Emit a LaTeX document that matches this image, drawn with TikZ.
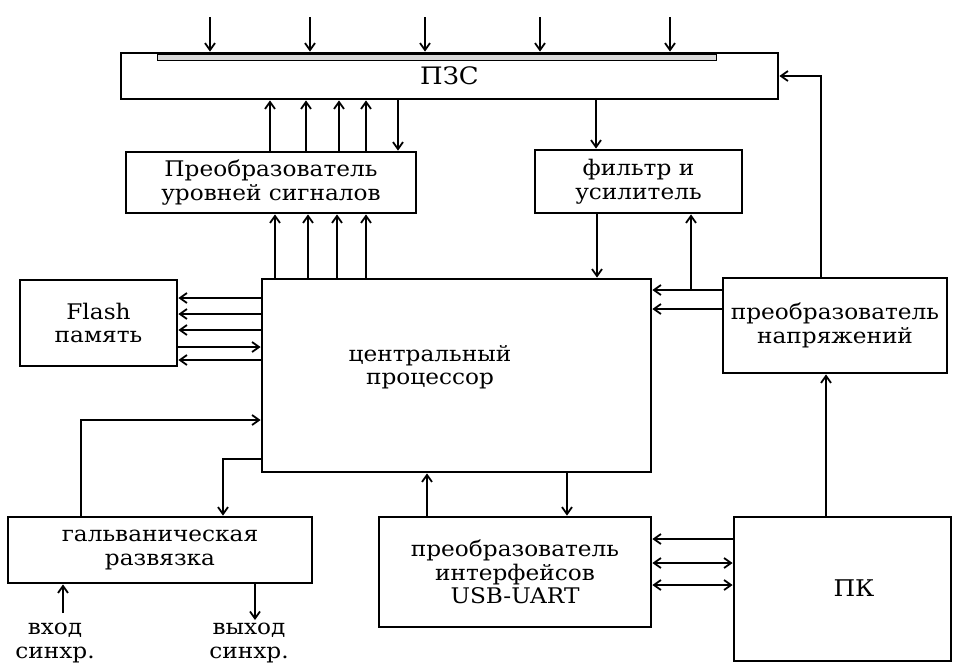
\documentclass[tikz,border=0pt]{standalone}
\usepackage{fontspec}
\setmainfont{DejaVu Serif}[FakeStretch=1.08]
\usetikzlibrary{arrows.meta}
\begin{document}
\begin{tikzpicture}[x=1pt,y=-1pt,
  box/.style={draw,line width=2.8pt,inner sep=0pt,align=center,font=\fontsize{21.5}{23.5}\selectfont},
  txt/.style={inner sep=0pt,align=center,font=\fontsize{21.5}{23.5}\selectfont},
  arr/.style={line width=1.8pt,-{Straight Barb[length=7pt,width=10pt,line width=1.8pt]}},
  darr/.style={line width=1.8pt,{Straight Barb[length=7pt,width=10pt,line width=1.8pt]}-{Straight Barb[length=7pt,width=10pt,line width=1.8pt]}}]
\useasboundingbox (0,0) rectangle (954,665);
% boxes
\node[box,minimum width=657pt,minimum height=46pt,font=\fontsize{24}{26}\selectfont] (pzs) at (449.5,76) {ПЗС};
\draw[line width=0.8pt,fill=gray!30] (157,54) rectangle (716,60);
\node[box,minimum width=290pt,minimum height=61pt] (pus) at (271,182.5) {Преобразователь\\уровней сигналов};
\node[box,minimum width=207pt,minimum height=63pt] (flt) at (638.5,181.5) {фильтр и\\усилитель};
\node[box,minimum width=389pt,minimum height=193pt] (cpu) at (456.5,375.5) {};
\node[txt] (cputxt) at (430,367) {центральный\\процессор};
\node[box,minimum width=157pt,minimum height=86pt] (flash) at (98.5,323) {Flash\\память};
\node[box,minimum width=224pt,minimum height=95pt] (volt) at (835,325.5) {преобразователь\\напряжений};
\node[box,minimum width=304pt,minimum height=66pt] (galv) at (160,550) {гальваническая\\развязка};
\node[box,minimum width=272pt,minimum height=110pt] (usb) at (515,572) {преобразователь\\интерфейсов\\USB-UART};
\node[box,minimum width=217pt,minimum height=144pt] (pk) at (842.5,589) {};
\node[txt,font=\fontsize{23}{25}\selectfont] (pktxt) at (854,588) {ПК};
\node[txt,anchor=north] (inlbl) at (55,623) {вход\\синхр.};
\node[txt,anchor=north] (outlbl) at (249,623) {выход\\синхр.};
% input arrows to ПЗС
\foreach \xx/\nm in {210/a,310/b,425/c,540/d,670/e}{
  \coordinate (in\nm) at (\xx,17);
  \draw[arr] (in\nm) -- (in\nm |- pzs.north);
}
% x helper coordinates
\foreach \xx/\nm in {270/u1,306/u2,339/u3,366/u4,398/d1,275/l1,308/l2,337/l3,366/l4,596/f1,597/f2,691/f3,821/v1,826/v2,427/s1,567/s2,81/g1,223/g2,63/g3,255/g4}{
  \coordinate (x\nm) at (\xx,0);
}
\foreach \yy/\nm in {290/a,309/b,298/f1,314/f2,330/f3,347/f4,360/f5,420/g1,459/g2,539/p1,563/p2,585/p3}{
  \coordinate (y\nm) at (0,\yy);
}
% ПУС <-> ПЗС
\foreach \nm in {u1,u2,u3,u4}{\draw[arr] (x\nm |- pus.north) -- (x\nm |- pzs.south);}
\draw[arr] (xd1 |- pzs.south) -- (xd1 |- pus.north);
% CPU -> ПУС
\foreach \nm in {l1,l2,l3,l4}{\draw[arr] (x\nm |- cpu.north) -- (x\nm |- pus.south);}
% ПЗС -> filter -> CPU
\draw[arr] (xf1 |- pzs.south) -- (xf1 |- flt.north);
\draw[arr] (xf2 |- flt.south) -- (xf2 |- cpu.north);
% voltage converter
\draw[arr] (xv1 |- volt.north) |- (pzs.east);
\draw[arr] (ya -| volt.west) -- (ya -| cpu.east);
\coordinate (jf) at (xf3 |- ya);
\draw[arr] (jf) -- (xf3 |- flt.south);
\draw[arr] (yb -| volt.west) -- (yb -| cpu.east);
\draw[arr] (xv2 |- pk.north) -- (xv2 |- volt.south);
% flash
\foreach \nm in {f1,f2,f3,f5}{\draw[arr] (y\nm -| cpu.west) -- (y\nm -| flash.east);}
\draw[arr] (yf4 -| flash.east) -- (yf4 -| cpu.west);
% galvanic isolation
\draw[arr] (xg1 |- galv.north) |- (yg1 -| cpu.west);
\draw[arr] (yg2 -| cpu.west) -| (xg2 |- galv.north);
\coordinate (inend) at (63,613);
\draw[arr] (inend) -- (xg3 |- galv.south);
\coordinate (outend) at (255,620);
\draw[arr] (xg4 |- galv.south) -- (outend);
% USB
\draw[arr] (xs1 |- usb.north) -- (xs1 |- cpu.south);
\draw[arr] (xs2 |- cpu.south) -- (xs2 |- usb.north);
\draw[arr] (yp1 -| pk.west) -- (yp1 -| usb.east);
\draw[darr] (yp2 -| usb.east) -- (yp2 -| pk.west);
\draw[darr] (yp3 -| usb.east) -- (yp3 -| pk.west);
\end{tikzpicture}
\end{document}
